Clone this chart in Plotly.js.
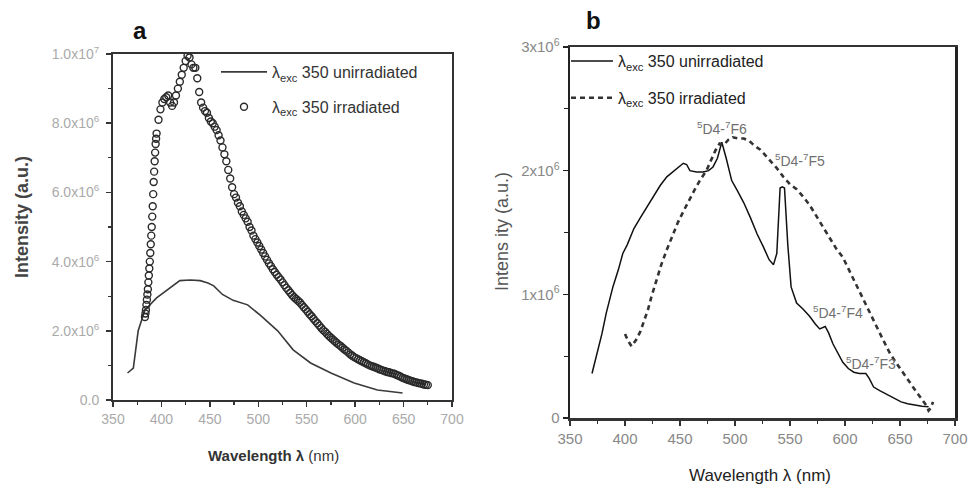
<!DOCTYPE html>
<html>
<head>
<meta charset="utf-8">
<script src="https://cdn.plot.ly/plotly-3.0.1.min.js"></script>
<style>html,body{margin:0;padding:0;background:#fff;}#chart{width:968px;height:486px;}</style>
</head>
<body>
<div id="chart"></div>
<script>
// ---- Panel a data (intensity in units of 1e6) ----
var aUnirrX = [365,371,376,383,395,412,419,430,440,448,454,463,474,489,502,520,536,554,575,599,623,649];
var aUnirrY = [0.78,0.92,2.0,2.6,2.95,3.3,3.45,3.47,3.45,3.38,3.3,3.05,2.88,2.75,2.45,2.0,1.45,1.07,0.78,0.49,0.29,0.2];

var aIrrX = [383,383.5,384,384.5,385,385.5,386,386.5,387,387.5,388,388.5,389,389.5,390,390.5,391,391.5,392,392.5,393,393.5,394,394.5,
  395,397,399,401,403,405,407,409,411,413,415,417,419,421,423,425,427,429,431,433,435,437,439,441,443,445,447,449,451,453,455,457,459,461,463,465,467,469,471,473,475,477,479,481,483,485,487,489,491,493,495,497,499,501,503,505,507,509,511,513,515,517,519,521,523,525,527,529,531,533,535,537,539,541,543,545,547,549,551,553,555,557,559,561,563,565,567,569,571,573,575,577,579,581,583,585,587,589,591,593,595,597,599,601,603,605,607,609,611,613,615,617,619,621,623,625,627,629,631,633,635,637,639,641,643,645,647,649,651,653,655,657,659,661,663,665,667,669,671,673,675];
var aIrrY = [2.4,2.5,2.6,2.75,2.9,3.05,3.2,3.4,3.6,3.8,4.0,4.25,4.5,4.75,5.0,5.3,5.6,5.95,6.3,6.6,6.9,7.15,7.4,7.55,
  7.7,8.1,8.4,8.6,8.7,8.75,8.8,8.6,8.5,8.6,8.8,9.0,9.2,9.4,9.6,9.8,9.95,9.9,9.7,9.6,9.6,9.3,8.9,8.6,8.45,8.35,8.3,8.15,8.05,8.0,7.9,7.8,7.65,7.5,7.3,7.1,6.9,6.65,6.4,6.15,5.95,5.85,5.7,5.6,5.45,5.35,5.25,5.15,5.0,4.9,4.75,4.65,4.55,4.45,4.35,4.25,4.15,4.05,3.95,3.87,3.78,3.7,3.62,3.55,3.48,3.4,3.32,3.24,3.17,3.1,3.03,2.97,2.92,2.87,2.82,2.75,2.68,2.62,2.55,2.48,2.42,2.35,2.28,2.22,2.15,2.08,2.02,1.97,1.91,1.85,1.8,1.75,1.7,1.65,1.6,1.56,1.51,1.46,1.42,1.37,1.32,1.28,1.24,1.21,1.18,1.15,1.12,1.09,1.06,1.03,1.0,0.98,0.96,0.94,0.92,0.89,0.87,0.85,0.83,0.81,0.8,0.78,0.77,0.75,0.72,0.7,0.67,0.64,0.62,0.6,0.58,0.56,0.54,0.52,0.51,0.49,0.48,0.47,0.45,0.44,0.43];

// ---- Panel b data (intensity in units of 1e6) ----
var bUnirrX = [370,374,379,383,389,394,398,402,408,414,420,426,432,438,445,453,456,459,465,471,476,480,484,488,492,497,502,508,514,520,526,531,535,538,541,543,545,548,551,556,562,568,573,577,582,585,589,594,598,603,608,613,619,622,626,632,638,645,651,657,663,670,676];
var bUnirrY = [0.36,0.5,0.68,0.85,1.06,1.2,1.33,1.4,1.53,1.62,1.71,1.79,1.88,1.95,2.0,2.06,2.05,2.0,1.99,1.99,2.0,2.03,2.1,2.23,2.1,1.92,1.84,1.74,1.62,1.49,1.38,1.28,1.24,1.33,1.86,1.87,1.86,1.4,1.06,0.93,0.88,0.82,0.76,0.72,0.74,0.69,0.6,0.52,0.45,0.4,0.37,0.36,0.36,0.32,0.25,0.22,0.19,0.16,0.13,0.115,0.105,0.095,0.09];

var bIrrX = [400,403,406,410,414,417,421,424,429,433,438,443,448,453,458,463,468,474,478,482,486,490,494,498,503,508,513,518,523,528,533,538,544,550,556,562,568,574,580,586,592,598,604,610,616,620,626,632,637,641,647,653,659,665,670,674,676,678,680];
var bIrrY = [0.68,0.62,0.58,0.63,0.7,0.77,0.88,0.98,1.12,1.24,1.36,1.47,1.58,1.67,1.76,1.84,1.92,2.0,2.08,2.16,2.22,2.21,2.25,2.27,2.26,2.26,2.24,2.2,2.17,2.12,2.07,2.02,1.95,1.89,1.85,1.79,1.72,1.63,1.55,1.46,1.37,1.3,1.19,1.07,0.96,0.9,0.79,0.68,0.59,0.52,0.44,0.36,0.28,0.21,0.15,0.1,0.06,0.08,0.13];

// ---- tick labels ----
var xTicks = [350,400,450,500,550,600,650,700];
var xTickText = ['350','400','450','500','550','600','650','700'];
var aYTicks = [0,2,4,6,8,10];
var aYTickText = ['0.0','2.0x10<sup>6</sup>','4.0x10<sup>6</sup>','6.0x10<sup>6</sup>','8.0x10<sup>6</sup>','1.0x10<sup>7</sup>'];
var bYTicks = [0,1,2,3];
var bYTickText = ['0','1x10<sup>6</sup>','2x10<sup>6</sup>','3x10<sup>6</sup>'];

// ---- labels ----
var seriesNames = ['λ<sub>exc</sub> 350 unirradiated','λ<sub>exc</sub> 350 irradiated'];
var transLabels = ['<sup>5</sup>D4-<sup>7</sup>F6','<sup>5</sup>D4-<sup>7</sup>F5','<sup>5</sup>D4-<sup>7</sup>F4','<sup>5</sup>D4-<sup>7</sup>F3'];
var transX = [488,559,593.5,623.5];
var transY = [2.345,2.09,0.857,0.445];

function scale(arr){ return arr.map(function(v){return v*1e6;}); }

var FONT = 'Liberation Sans, Arial, sans-serif';

var traces = [
  {x:aUnirrX, y:scale(aUnirrY), type:'scatter', mode:'lines', name:seriesNames[0],
   line:{color:'#3a3a3a', width:1.6}, xaxis:'x', yaxis:'y', legend:'legend', legendgroup:'a1'},
  {x:aIrrX, y:scale(aIrrY), type:'scatter', mode:'markers', name:seriesNames[1],
   marker:{symbol:'circle-open', size:7, color:'#2a2a2a', line:{width:1.4}}, xaxis:'x', yaxis:'y', legend:'legend', legendgroup:'a2'},
  {x:bUnirrX, y:scale(bUnirrY), type:'scatter', mode:'lines', name:seriesNames[0],
   line:{color:'#111', width:1.5}, xaxis:'x2', yaxis:'y2', legend:'legend2', legendgroup:'b1'},
  {x:bIrrX, y:scale(bIrrY), type:'scatter', mode:'lines', name:seriesNames[1],
   line:{color:'#333', width:2.6, dash:'5px,4px'}, xaxis:'x2', yaxis:'y2', legend:'legend2', legendgroup:'b2'}
];

function xAxis(domain, anchor, fontColor, fontSize, lw){
  return {domain:domain, anchor:anchor, range:[350,700], tickmode:'array', tickvals:xTicks, ticktext:xTickText,
    ticks:'outside', ticklen:5, tickwidth:1.5, tickcolor:'#333',
    minor:{dtick:25, tick0:350, ticks:'outside', ticklen:3, tickwidth:1.2, tickcolor:'#333'},
    showline:true, linecolor:'#333', linewidth:lw, mirror:true, showgrid:false, zeroline:false,
    tickfont:{family:FONT, size:fontSize, color:fontColor}};
}

function note(text, x, y, size, color, angle){
  return {text:text, xref:'paper', yref:'paper', x:x/968, y:1-y/486, xanchor:'center', yanchor:'middle',
    textangle:angle||0, showarrow:false, font:{family:FONT, size:size, color:color}};
}

var annotations = [
  note('<b>a</b>', 140, 30, 24, '#111'),
  note('<b>b</b>', 593, 20, 24, '#111'),
  note('<b>Intensity (a.u.)</b>', 22, 217, 18, '#444', -90),
  note('<b>Wavelength λ</b> (nm)', 273, 455, 15, '#333'),
  note('Intens ity (a.u.)', 502, 232, 18, '#555', -90),
  note('Wavelength λ (nm)', 760, 475, 17, '#222')
];
for (var i=0;i<transLabels.length;i++){
  annotations.push({text:transLabels[i], xref:'x2', yref:'y2', x:transX[i], y:transY[i]*1e6, xanchor:'center', yanchor:'middle', showarrow:false,
    font:{family:FONT, size:14, color:'#707070'}});
}

var layout = {
  width:968, height:486, margin:{l:0,r:0,t:0,b:0}, paper_bgcolor:'#fff', plot_bgcolor:'rgba(0,0,0,0)',
  showlegend:true,
  xaxis: xAxis([113/968, 452/968], 'y', '#aaa', 14, 2),
  yaxis: {domain:[1-400/486, 1-54/486], anchor:'x', range:[0,10e6], tickmode:'array', tickvals:scale(aYTicks), ticktext:aYTickText,
    ticks:'outside', ticklen:5, tickwidth:1.5, tickcolor:'#333', ticklabelstandoff:4,
    minor:{dtick:1e6, tick0:0, ticks:'outside', ticklen:3, tickwidth:1.2, tickcolor:'#333'},
    showline:true, linecolor:'#333', linewidth:2, mirror:true, showgrid:false, zeroline:false,
    tickfont:{family:FONT, size:14, color:'#aaa'}},
  xaxis2: xAxis([570/968, 955/968], 'y2', '#888', 15, 2.5),
  yaxis2: {domain:[1-418/486, 1-47/486], anchor:'x2', range:[0,3e6], tickmode:'array', tickvals:scale(bYTicks), ticktext:bYTickText,
    ticks:'outside', ticklen:5, tickwidth:1.5, tickcolor:'#222',
    minor:{dtick:0.5e6, tick0:0, ticks:'outside', ticklen:4, tickwidth:1.2, tickcolor:'#222'},
    showline:true, linecolor:'#222', linewidth:2.5, mirror:true, showgrid:false, zeroline:false,
    tickfont:{family:FONT, size:15, color:'#888'}},
  legend: {x:216/968, y:1-55/486, xanchor:'left', yanchor:'top', bgcolor:'rgba(0,0,0,0)', traceorder:'grouped', tracegroupgap:11,
    itemwidth:46, font:{family:FONT, size:16, color:'#333'}},
  legend2: {x:566/968, y:1-44/486, xanchor:'left', yanchor:'top', bgcolor:'rgba(0,0,0,0)', traceorder:'grouped', tracegroupgap:13,
    itemwidth:42, font:{family:FONT, size:16, color:'#222'}},
  annotations: annotations
};

Plotly.newPlot('chart', traces, layout, {displayModeBar:false, staticPlot:true});
</script>
</body>
</html>
